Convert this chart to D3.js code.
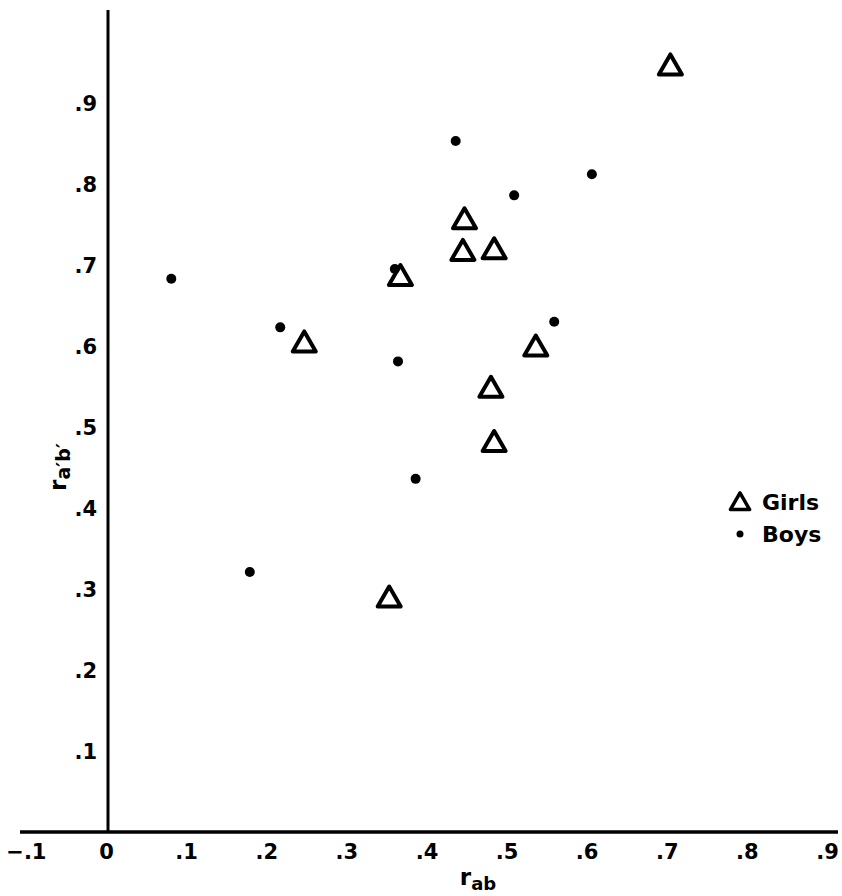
<!DOCTYPE html>
<html>
<head>
<meta charset="utf-8" />
<title>r ab vs r a'b'</title>
<style>
    html, body { margin: 0; padding: 0; background: white; }
    text { font-family: "DejaVu Sans", "Liberation Sans", sans-serif; font-weight: bold; fill: black; }
</style>
</head>
<body>
<svg width="842" height="896"></svg>
<script src="https://d3js.org/d3.v7.min.js"></script>
<script>
// values
var girlsX = [0.702, 0.445, 0.443, 0.482, 0.365, 0.245, 0.534, 0.478, 0.482, 0.351];
var girlsY = [0.946, 0.756, 0.717, 0.719, 0.686, 0.604, 0.599, 0.548, 0.481, 0.289];
var boysX = [0.079, 0.434, 0.507, 0.604, 0.358, 0.215, 0.557, 0.362, 0.384, 0.177];
var boysY = [0.683, 0.853, 0.786, 0.812, 0.695, 0.623, 0.630, 0.581, 0.436, 0.321];
var xTicks = [-0.1, 0, 0.1, 0.2, 0.3, 0.4, 0.5, 0.6, 0.7, 0.8, 0.9];
var yTicks = [0.1, 0.2, 0.3, 0.4, 0.5, 0.6, 0.7, 0.8, 0.9];
var legendLabels = ["Girls", "Boys"];

var svg = d3.select("svg");

var x = d3.scaleLinear().domain([0, 0.9]).range([108, 829]);
var y = d3.scaleLinear().domain([0, 0.9]).range([832, 103]);

var fmt = function (d) {
    if (d === 0) return "0";
    return d3.format(".1f")(d).replace("0.", ".");
};

// axis lines
svg.append("line")
    .attr("x1", 20).attr("x2", 838)
    .attr("y1", y(0)).attr("y2", y(0))
    .attr("stroke", "black").attr("stroke-width", 3.5);
svg.append("line")
    .attr("x1", x(0)).attr("x2", x(0))
    .attr("y1", 10).attr("y2", y(0))
    .attr("stroke", "black").attr("stroke-width", 3);

// tick labels
var xAxis = svg.append("g")
    .attr("transform", "translate(-2,841)")
    .call(d3.axisBottom(x).tickValues(xTicks).tickSize(0).tickPadding(3).tickFormat(fmt));
xAxis.select(".domain").remove();
xAxis.selectAll("text").attr("font-size", 21).attr("font-family", null);

var yAxis = svg.append("g")
    .attr("transform", "translate(100,0)")
    .call(d3.axisLeft(y).tickValues(yTicks).tickSize(0).tickPadding(3).tickFormat(fmt));
yAxis.select(".domain").remove();
yAxis.selectAll("text").attr("font-size", 21).attr("dy", "0.36em").attr("font-family", null);

// axis titles
var xt = svg.append("text")
    .attr("x", 478).attr("y", 885)
    .attr("text-anchor", "middle");
xt.append("tspan").attr("font-size", 23).text("r");
xt.append("tspan").attr("font-size", 18).attr("dy", 5).text("ab");

var yt = svg.append("text")
    .attr("transform", "translate(66,467) rotate(-90)")
    .attr("text-anchor", "middle");
yt.append("tspan").attr("font-size", 23).text("r");
yt.append("tspan").attr("font-size", 19).attr("dy", 4).text("a\u2032b\u2032");

// marks
var tri = d3.symbol().type(d3.symbolTriangle).size(230);

svg.append("g").selectAll("path")
    .data(d3.range(girlsX.length))
    .join("path")
    .attr("d", tri)
    .attr("transform", function (i) { return "translate(" + x(girlsX[i]) + "," + (y(girlsY[i]) + 2) + ")"; })
    .attr("fill", "none")
    .attr("stroke", "black")
    .attr("stroke-width", 4)
    .attr("stroke-linejoin", "round");

svg.append("g").selectAll("circle")
    .data(d3.range(boysX.length))
    .join("circle")
    .attr("cx", function (i) { return x(boysX[i]); })
    .attr("cy", function (i) { return y(boysY[i]); })
    .attr("r", 5)
    .attr("fill", "black");

// legend
var legend = svg.append("g").attr("transform", "translate(740,502)");
legend.append("path")
    .attr("d", d3.symbol().type(d3.symbolTriangle).size(160))
    .attr("transform", "translate(0,2)")
    .attr("fill", "none").attr("stroke", "black")
    .attr("stroke-width", 3.5).attr("stroke-linejoin", "round");
legend.append("circle").attr("cx", 0).attr("cy", 32).attr("r", 3.5).attr("fill", "black");
legend.selectAll("text.lg")
    .data(legendLabels)
    .join("text")
    .attr("class", "lg")
    .attr("x", 22)
    .attr("y", function (d, i) { return i * 32; })
    .attr("dy", "0.36em")
    .attr("font-size", 22)
    .text(function (d) { return d; });
</script>
</body>
</html>
